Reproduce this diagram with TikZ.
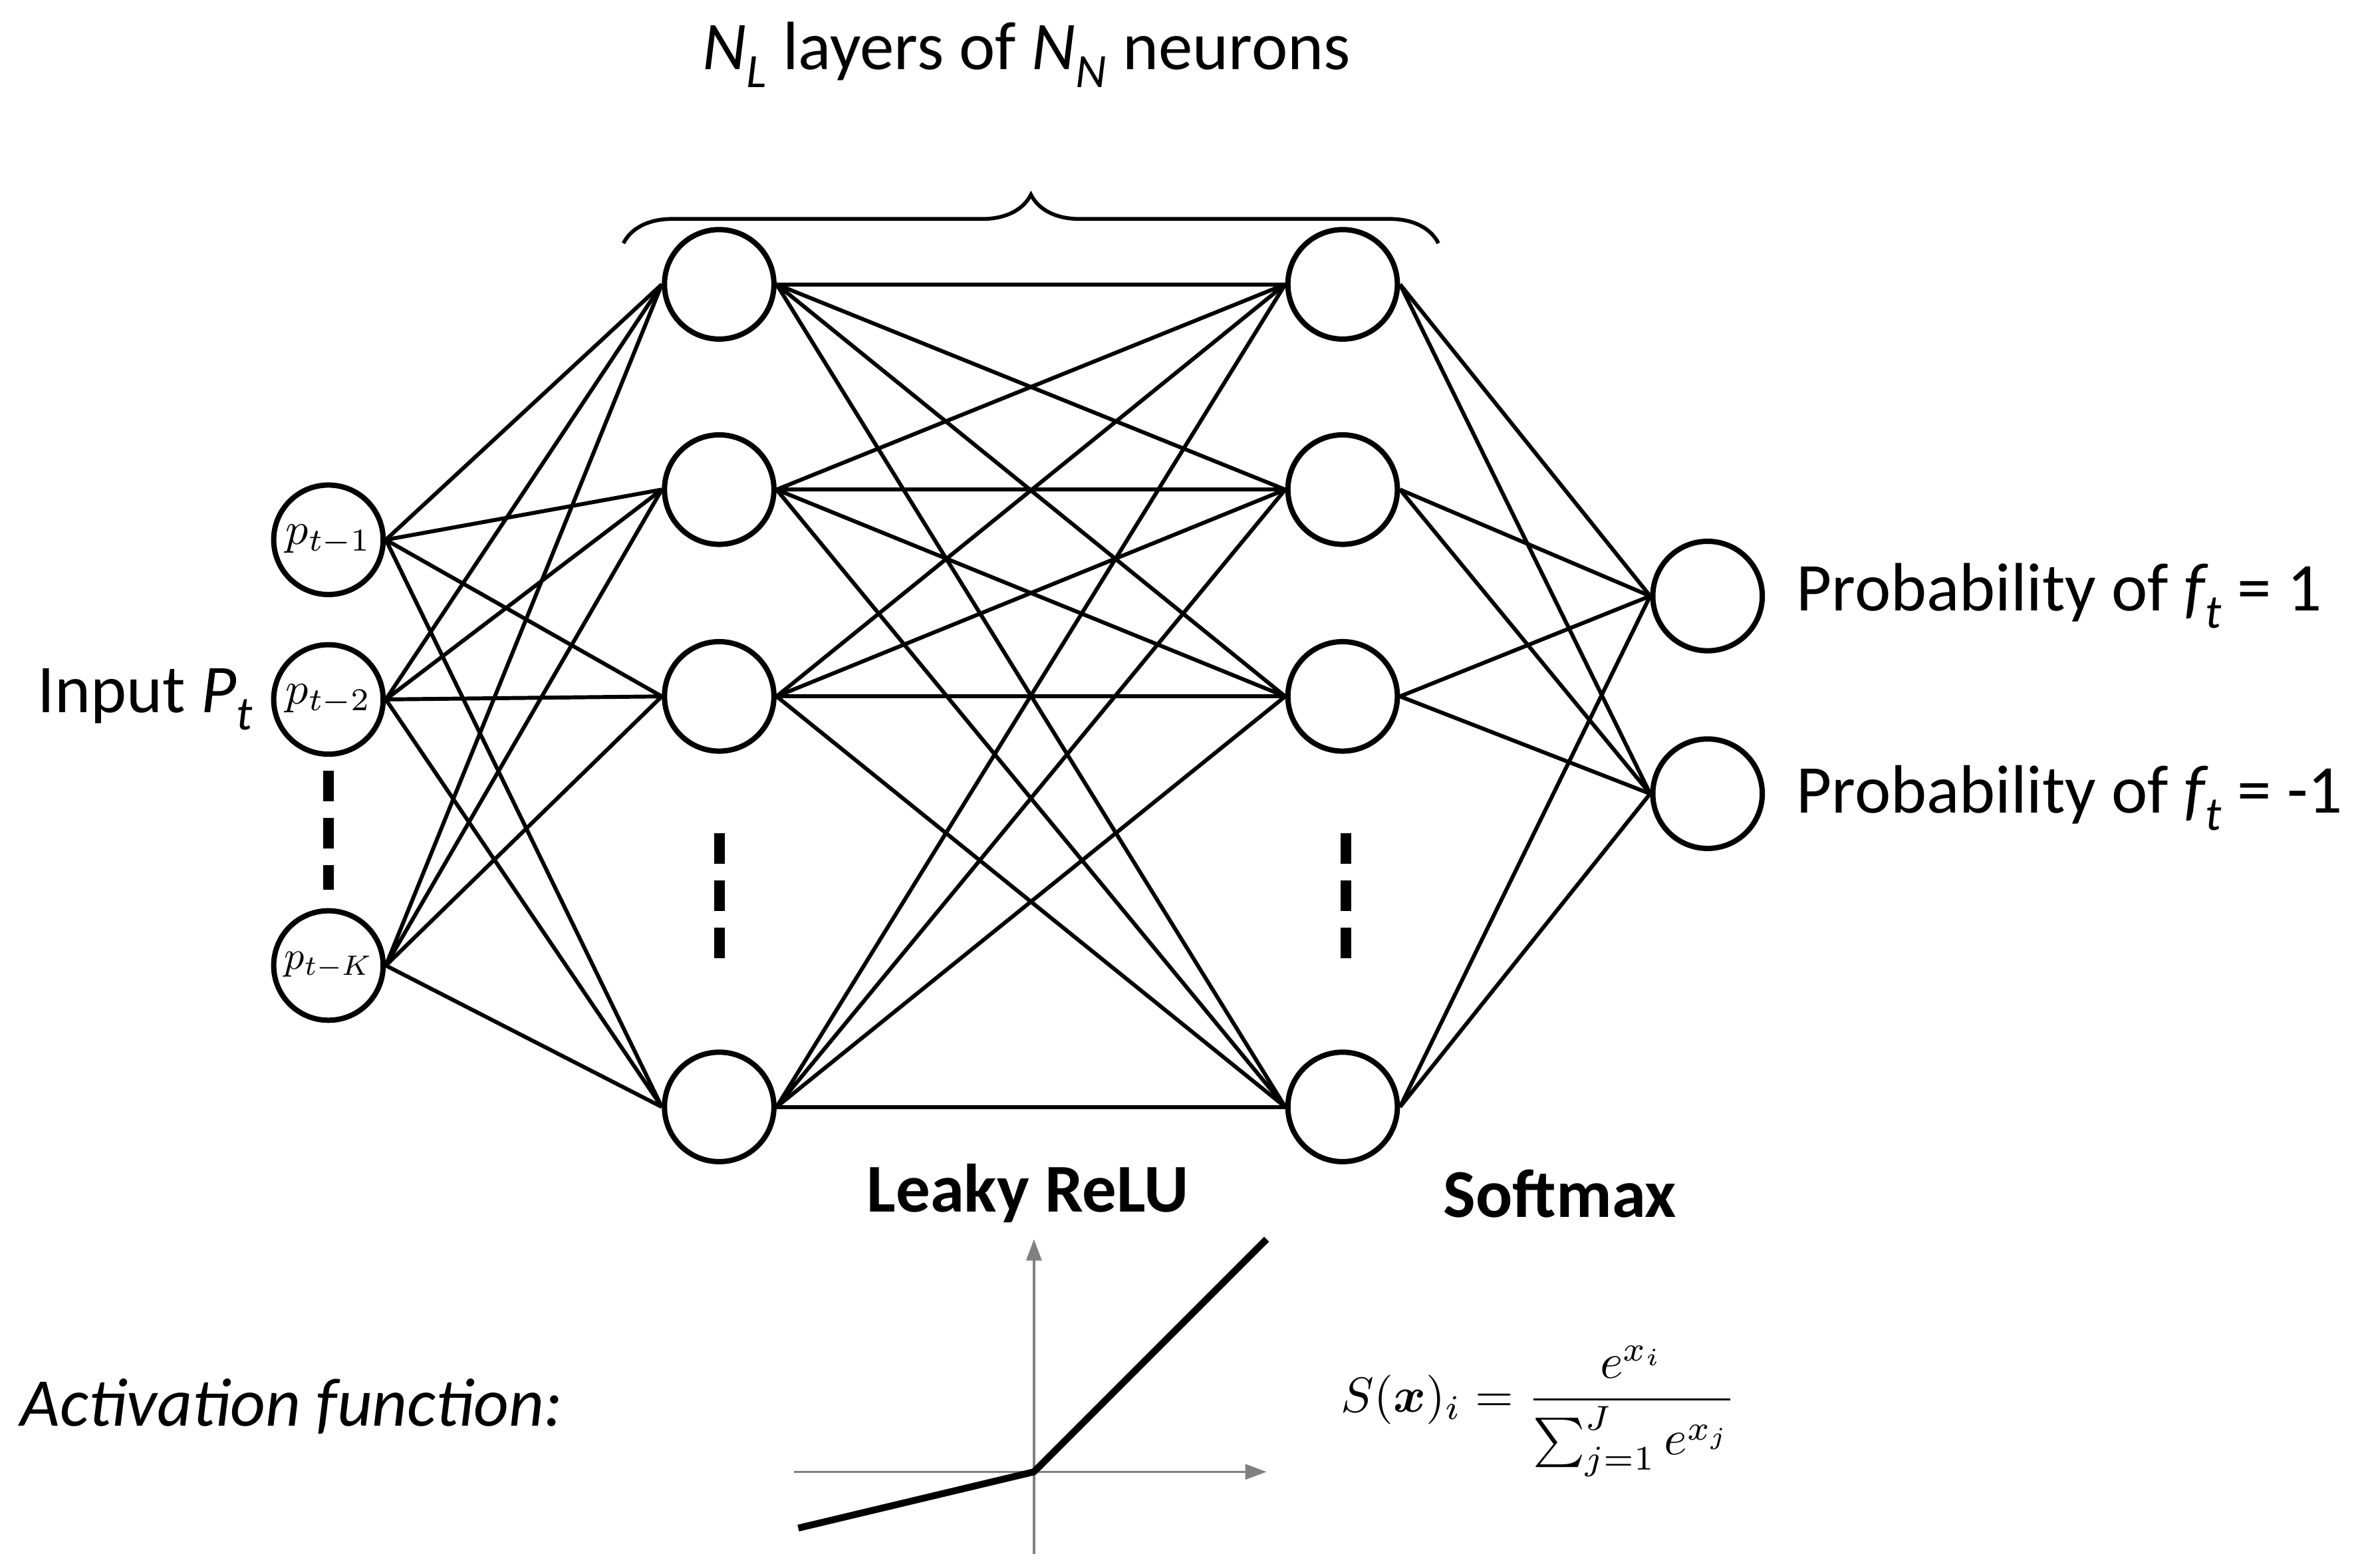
\documentclass[tikz,border=0pt]{standalone}
\usepackage{fontspec}
\setmainfont{Carlito}
\usepackage{amsmath,bm,graphicx}
\usetikzlibrary{decorations.pathreplacing,arrows.meta}
\begin{document}
\begin{tikzpicture}[x=1pt,y=-1pt,
  neuron/.style={circle,draw,line width=3.5pt,minimum size=72pt,inner sep=0pt},
  conn/.style={line width=2.6pt},
  lbl/.style={font=\fontsize{45}{52}\selectfont},
  dots/.style={line width=7pt,dash pattern=on 20pt off 11pt}]
\useasboundingbox[fill=white] (0,0) rectangle (1560,1031);
% input
\node[neuron] (i1) at (216,355) {\resizebox{56pt}{!}{$p_{t-1}$}};
\node[neuron] (i2) at (216,460) {\resizebox{56pt}{!}{$p_{t-2}$}};
\node[neuron] (i3) at (216,635) {\resizebox{58pt}{!}{$p_{t-K}$}};
% hidden
\foreach \n/\y in {1/187,2/322,3/458,4/728}{
  \node[neuron] (a\n) at (473,\y) {};
  \node[neuron] (b\n) at (883,\y) {};
}
\node[neuron] (o1) at (1123,392) {};
\node[neuron] (o2) at (1123,522) {};
\foreach \i in {1,2,3}{\foreach \j in {1,2,3,4}{\draw[conn] (i\i.east) -- (a\j.west);}}
\foreach \i in {1,2,3,4}{\foreach \j in {1,2,3,4}{\draw[conn] (a\i.east) -- (b\j.west);}}
\foreach \i in {1,2,3,4}{\foreach \j in {1,2}{\draw[conn] (b\i.east) -- (o\j.west);}}
% dots
\coordinate (d1s) at (216,507); \coordinate (d1e) at (216,585);
\coordinate (d2s) at (473,548); \coordinate (d2e) at (473,632);
\coordinate (d3s) at (885,548); \coordinate (d3e) at (885,632);
\draw[dots] (d1s) -- (d1e);
\draw[dots] (d2s) -- (d2e);
\draw[dots] (d3s) -- (d3e);
% brace
\coordinate (bl) at (410,160); \coordinate (br) at (946,160);
\draw[line width=2.5pt,decorate,decoration={brace,amplitude=32pt}] (bl) -- (br);
\node[lbl] (title) at (675,36) {$\mathit{N_L}$ layers of $\mathit{N_N}$ neurons};
\node[lbl,anchor=east] (inp) at (170,460) {Input $\mathit{P_t}$};
\node[lbl,anchor=west] (p1) at (1178,392) {Probability of $\mathit{f_t}$ = 1};
\node[lbl,anchor=west] (p2) at (1178,525) {Probability of $\mathit{f_t}$ = -1};
\node[lbl,font=\fontsize{45}{52}\selectfont\bfseries] (lr) at (676,785) {Leaky ReLU};
\node[lbl,font=\fontsize{45}{52}\selectfont\bfseries] (sm) at (1026,785) {Softmax};
\node[lbl,anchor=west,font=\fontsize{45}{52}\selectfont\itshape] (af) at (10,925) {Activation function:};
% relu plot
\coordinate (o) at (680,968);
\coordinate (yb) at (680,1022); \coordinate (yt) at (680,815);
\coordinate (xl) at (522,968); \coordinate (xr) at (833,968);
\draw[gray,line width=1.5pt,-{Triangle[length=14pt,width=10pt]}] (yb) -- (yt);
\draw[gray,line width=1.5pt,-{Triangle[length=14pt,width=10pt]}] (xl) -- (xr);
\coordinate (c1) at (525,1005); \coordinate (c2) at (833,815);
\draw[line width=4.5pt,line join=round] (c1) -- (o) -- (c2);
\node (fm) at (1012,928) {\resizebox{260pt}{!}{$S(\bm{x})_i=\dfrac{e^{x_i}}{\sum_{j=1}^{J}e^{x_j}}$}};
\end{tikzpicture}
\end{document}
